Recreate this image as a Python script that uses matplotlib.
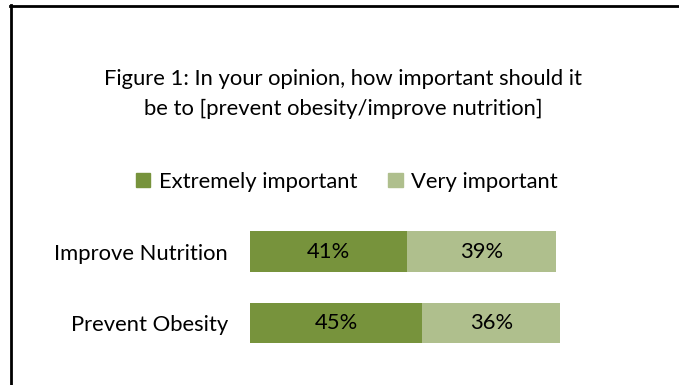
import matplotlib.pyplot as plt
from matplotlib.lines import Line2D
from matplotlib.patches import Patch

plt.rcParams['font.family'] = ['Lato', 'DejaVu Sans']

categories = ['Prevent Obesity', 'Improve Nutrition']
extremely = [45, 41]
very = [36, 39]
series_names = ['Extremely important', 'Very important']
title = 'Figure 1: In your opinion, how important should it\nbe to [prevent obesity/improve nutrition]'

DARK = '#77933C'
LIGHT = '#AFBF8D'
FS = 15.8

W, H = 679, 385
fig = plt.figure(figsize=(W / 100, H / 100), dpi=100)

# frame lines (top and left)
fig.add_artist(Line2D([10 / W, 1], [1 - 6 / H, 1 - 6 / H], color='black', lw=2.0,
                      transform=fig.transFigure))
fig.add_artist(Line2D([11 / W, 11 / W], [0, 1 - 5 / H], color='black', lw=2.0,
                      transform=fig.transFigure))

ax = fig.add_axes([250 / W, 1 - 358.75 / H, 383 / W, 143 / H])
y = range(len(categories))
bh = 0.573
ax.barh(y, extremely, height=bh, color=DARK, label=series_names[0])
ax.barh(y, very, left=extremely, height=bh, color=LIGHT, label=series_names[1])

for i in y:
    ax.text(extremely[i] / 2, i, f'{extremely[i]}%', ha='center', va='center', fontsize=FS)
    ax.text(extremely[i] + very[i] / 2, i, f'{very[i]}%', ha='center', va='center', fontsize=FS)

ax.set_xlim(0, 100)
ax.set_ylim(-0.5, 1.5)
ax.set_yticks(list(y))
ax.set_yticklabels(categories, fontsize=FS)
ax.tick_params(axis='y', length=0, pad=16)
ax.set_xticks([])
for s in ax.spines.values():
    s.set_visible(False)

fig.text(343 / W, 1 - 94 / H, title, ha='center', va='center', fontsize=FS,
         linespacing=1.6)

handles = [Patch(color=DARK), Patch(color=LIGHT)]
fig.legend(handles, series_names, loc='center', bbox_to_anchor=(347 / W, 1 - 182 / H),
           ncol=2, frameon=False, fontsize=FS, handlelength=0.65, handleheight=0.6,
           handletextpad=0.4, columnspacing=1.4)

fig.savefig('out.png', dpi=100)
